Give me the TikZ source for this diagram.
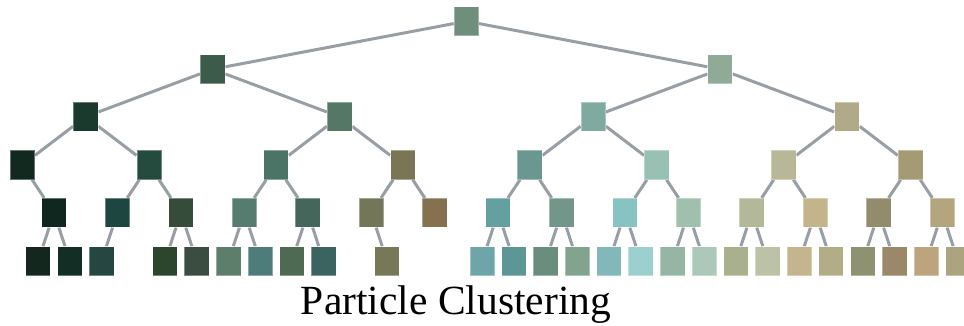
\documentclass[tikz,border=0pt]{standalone}
\usepackage{fontspec}
\setmainfont{Liberation Serif}
\usetikzlibrary{backgrounds}
\begin{document}
\begin{tikzpicture}[x=1pt,y=-1pt,
  box/.style={rectangle, minimum width=24.7pt, minimum height=29pt, inner sep=0pt, draw=white, draw opacity=0.35, line width=0.6pt},
  link/.style={draw={rgb,255:red,152;green,158;blue,165}, line width=3pt},
  caption/.style={font=\fontsize{41.5}{50}\selectfont, anchor=base, inner sep=0pt}]
\useasboundingbox (0,0) rectangle (964,326);
% root
\definecolor{cr}{HTML}{6F8E7C}
\node[box, fill=cr] (r) at (466.4,21.2) {};
% level 1
\foreach \k/\c in {0/3D5B4A,1/8FAB98}{
  \definecolor{cc}{HTML}{\c}
  \node[box, fill=cc] (a\k) at ({212.6+507.52*\k},69.2) {};
  \begin{pgfonlayer}{background}\draw[link] (a\k) -- (r);\end{pgfonlayer}
}
% level 2
\foreach \k/\c in {0/1B3A2E,1/557766,2/7EAAA0,3/B0AA88}{
  \definecolor{cc}{HTML}{\c}
  \pgfmathtruncatemacro\p{floor(\k/2)}
  \node[box, fill=cc] (b\k) at ({85.72+253.76*\k},116.7) {};
  \begin{pgfonlayer}{background}\draw[link] (b\k) -- (a\p);\end{pgfonlayer}
}
% level 3
\foreach \k/\c in {0/12291F,1/254A3E,2/4C7466,3/7A7555,4/6A9891,5/98C1B4,6/B8B898,7/A49A74}{
  \definecolor{cc}{HTML}{\c}
  \pgfmathtruncatemacro\p{floor(\k/2)}
  \node[box, fill=cc] (c\k) at ({22.28+126.88*\k},165) {};
  \begin{pgfonlayer}{background}\draw[link] (c\k) -- (b\p);\end{pgfonlayer}
}
% level 4
\foreach \k/\c in {1/0F271E,2/1E4641,3/354C3B,4/567C70,5/45665A,6/737658,7/857150,8/65A0A0,9/72978A,10/88C3C3,11/A0C0AE,12/B4B89A,13/C3B48C,14/938C6C,15/B5A57E}{
  \definecolor{cc}{HTML}{\c}
  \pgfmathtruncatemacro\p{floor(\k/2)}
  \node[box, fill=cc] (d\k) at ({-9.44+63.44*\k},212.7) {};
  \begin{pgfonlayer}{background}\draw[link] (d\k) -- (c\p);\end{pgfonlayer}
}
% level 5
\foreach \k/\c in {2/14271E,3/122E25,4/254641,6/2C452D,7/3B4D40,8/5E7E6C,9/4E7C7A,10/4E6A52,11/3B6460,13/767858,16/6EA5A8,17/5E9595,18/6A8E7D,19/82A48E,20/82B8B9,21/9BD0CF,22/95B6A4,23/ACC8B8,24/A8B08E,25/BCC2A6,26/C4B58E,27/B2AD86,28/8E9270,29/9A8868,30/BBA47E,31/ACA47E}{
  \definecolor{cc}{HTML}{\c}
  \pgfmathtruncatemacro\p{floor(\k/2)}
  \node[box, fill=cc] (e\k) at ({-25.3+31.72*\k},261) {};
  \begin{pgfonlayer}{background}\draw[link] (e\k) -- (d\p);\end{pgfonlayer}
}
\node[caption] (t) at (456,314.5) {Particle Clustering};
\end{tikzpicture}
\end{document}
